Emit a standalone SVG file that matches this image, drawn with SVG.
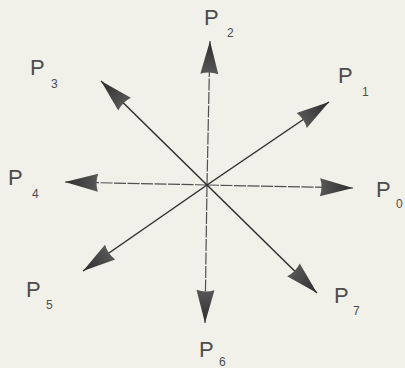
<svg xmlns="http://www.w3.org/2000/svg" width="405" height="368" viewBox="0 0 405 368">
<style>
.lbl{font-family:"Liberation Sans","DejaVu Sans",sans-serif;fill:#4d4d4d}
.p{font-size:22px}
.s{font-size:12px}
.diag{stroke:#2e2e2e;stroke-width:1.5;fill:none;marker-end:url(#ah)}
.axis{stroke:#505050;stroke-width:1.2;fill:none;stroke-dasharray:12 1.5;marker-end:url(#ah)}
</style>
<defs>
<linearGradient id="g" x1="0" y1="0" x2="1" y2="0">
<stop offset="0" stop-color="#585858"/>
<stop offset="1" stop-color="#2c2c2c"/>
</linearGradient>
<marker id="ah" markerUnits="userSpaceOnUse" markerWidth="40" markerHeight="24" viewBox="-35 -12 37 24" refX="0" refY="0" orient="auto">
<path d="M0,0 L-33,-9 Q-30,0 -33,9 Z" fill="url(#g)"/>
</marker>
</defs>
<rect width="405" height="368" fill="#f1f0e9"/>
<g id="connectors">
<line class="axis" x1="207" y1="185" x2="210" y2="41"/>
<line class="axis" x1="207" y1="185" x2="205" y2="323"/>
<line class="axis" x1="207" y1="185" x2="65" y2="182"/>
<line class="axis" x1="207" y1="185" x2="353" y2="188"/>
<line class="diag" x1="207" y1="185" x2="329" y2="102"/>
<line class="diag" x1="207" y1="185" x2="101" y2="81"/>
<line class="diag" x1="207" y1="185" x2="83" y2="271"/>
<line class="diag" x1="207" y1="185" x2="317" y2="293"/>
</g>
<g id="P0"><text class="lbl p" x="376" y="197">P</text><text class="lbl s" x="396" y="208">0</text></g>
<g id="P1"><text class="lbl p" x="338" y="83">P</text><text class="lbl s" x="362" y="96">1</text></g>
<g id="P2"><text class="lbl p" x="204" y="25">P</text><text class="lbl s" x="227" y="37">2</text></g>
<g id="P3"><text class="lbl p" x="30" y="75">P</text><text class="lbl s" x="51" y="88">3</text></g>
<g id="P4"><text class="lbl p" x="8" y="185">P</text><text class="lbl s" x="32" y="198">4</text></g>
<g id="P5"><text class="lbl p" x="26" y="297">P</text><text class="lbl s" x="46" y="309">5</text></g>
<g id="P6"><text class="lbl p" x="199" y="357">P</text><text class="lbl s" x="219" y="366">6</text></g>
<g id="P7"><text class="lbl p" x="334" y="303">P</text><text class="lbl s" x="353" y="315">7</text></g>
</svg>
